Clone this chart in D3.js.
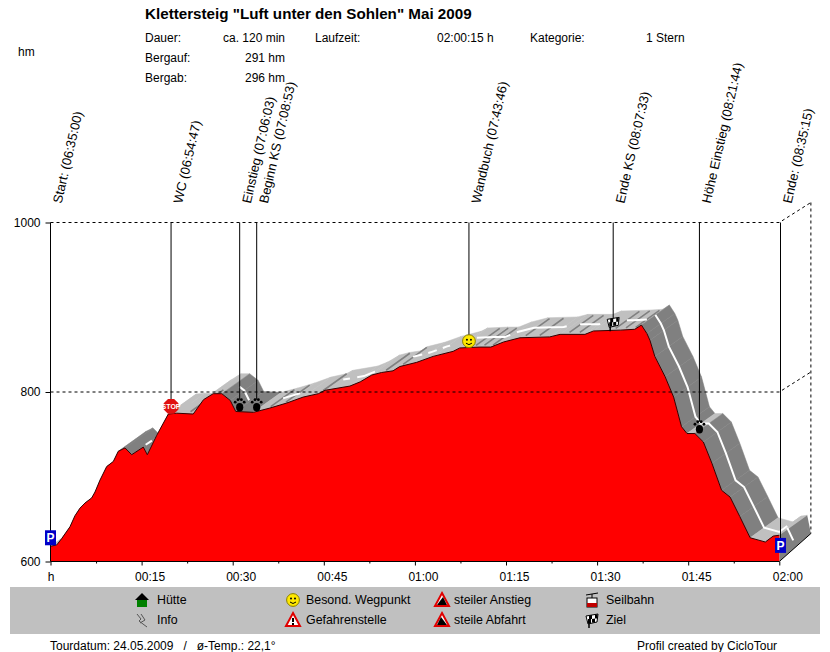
<!DOCTYPE html>
<html>
<head>
<meta charset="utf-8">
<script src="https://cdn.jsdelivr.net/npm/d3@7"></script>
<style>
  html, body { margin: 0; padding: 0; background: #fff; }
  svg { display: block; }
  text { font-family: "Liberation Sans", Arial, sans-serif; font-size: 12px; fill: #000; }
</style>
</head>
<body>
<svg width="830" height="652"></svg>
<script>
// Hoehenprofil: Zeit in Minuten, Hoehe in hm
const profileMinutes = [0, 1.02, 1.84, 3.21, 4.03, 4.86, 5.68, 6.78, 7.33, 8.15, 9.25, 10.34, 11.16, 12.27, 13.37, 15.28, 15.94, 17.5, 19.4, 20.8, 23.5, 25.2, 26.8, 28.2, 29.6, 30.5, 33.4, 36.1, 38.9, 41.6, 44.1, 45.2, 49.3, 51, 52.9, 54.5, 56.4, 57.5, 60.3, 63, 66.3, 67.4, 70.7, 72.5, 74.6, 77.3, 82.2, 83.9, 88, 89.4, 93.8, 96.2, 97.3, 98.2, 98.7, 99.5, 101.2, 102.6, 103.9, 104.8, 106.1, 107.5, 108.9, 110.5, 111.9, 113.5, 115.2, 117.7, 119, 120];
const profileElevation = [618, 619.5, 627, 641, 654, 663, 669, 675, 682, 696, 712, 718, 730, 734, 726, 735, 726, 749, 774, 775, 774, 791, 798, 798, 790, 777, 776, 781, 787, 794, 798, 802, 807, 812, 820, 823, 825, 830, 835, 842, 848, 852, 853, 853, 859, 864, 865, 868, 868, 872, 873, 874, 879, 869, 861, 842, 818, 794, 759, 751, 751, 741, 716, 684, 676, 653, 628, 623, 630, 631];

// Wegpunkte oben
const markerLabels = ["Start: (06:35:00)", "WC (06:54:47)", "Einstieg (07:06:03)", "Beginn KS (07:08:53)", "Wandbuch (07:43:46)", "Ende KS (08:07:33)", "Höhe Einstieg (08:21:44)", "Ende: (08:35:15)"];
const markerMinutes = [0, 19.85, 31.15, 33.95, 68.9, 92.65, 106.85, 120.2];
const markerIconElevation = [628, 783, 785, 785, 860, 881, 759, 619];
const markerIcons = ["parking", "stop", "paw", "paw", "smiley", "flag", "paw", "parking"];

// Achsen
const xTicks = [0, 15, 30, 45, 60, 75, 90, 105, 120];
const xTickLabels = ["h", "00:15", "00:30", "00:45", "01:00", "01:15", "01:30", "01:45", "02:00"];
const xMinorTicks = [7.5, 22.5, 37.5, 52.5, 67.5, 82.5, 97.5, 112.5];
const yTicks = [600, 800, 1000];

// 3D-Band: dunkle Abschnitte, dunkle Streifen, weisse Mittellinie (Minuten)
const darkRanges = [[11.16, 15.94], [28.2, 33.4], [97.3, 104.8], [106.1, 115.2]];
const stripeMinutes = [22.6, 24.1, 35.8, 38.3, 44.4, 54.8, 57.6, 69.6, 71, 72.4, 77.8, 80.1, 85, 86.7, 92.6, 94.3, 95.9];
const whiteRuns = [[13.37, 14.4], [28.8, 30.4], [36, 38.8], [45.9, 47], [48.2, 51.1], [57.4, 58.9], [59.9, 61.3], [62.3, 63.5], [67.9, 73.4], [74.5, 82.7], [84.9, 88.2], [92.6, 95.9], [97.3, 119]];
const capWhite = [[121.3, 640], [122.3, 625]];
const depthMinutes = 4.6;
const depthElevation = 23.6;

const svg = d3.select("svg");

const x = d3.scaleLinear().domain([0, 120]).range([50.5, 779.3]);
const y = d3.scaleLinear().domain([600, 1000]).range([561.5, 222.5]);
const elevationAt = d3.scaleLinear().domain(profileMinutes).range(profileElevation);

const profile = profileMinutes.map((t, i) => [t, profileElevation[i]]);
const poly = d3.line().x((d) => x(d[0])).y((d) => y(d[1]));
const back = ([t, e], f = 1) => [t + depthMinutes * f, e + depthElevation * f];

// Band hinter dem Profil
const isDark = (t) => darkRanges.some(([a, b]) => t >= a && t < b);
const band = svg.append("g");
d3.pairs(profile).forEach(([a, b]) => {
    const c = isDark((a[0] + b[0]) / 2) ? "#808080" : "#c0c0c0";
    band.append("path")
        .attr("d", poly([a, b, back(b), back(a)]) + "Z")
        .attr("fill", c).attr("stroke", c).attr("stroke-width", 0.5);
});
// Endkappe rechts
band.append("path")
    .attr("d", poly([[120, 631], back([120, 631]), [125.2, 633], [120, 600]]) + "Z")
    .attr("fill", "#808080");
band.append("path")
    .attr("d", poly([[120, 600], [125.2, 633]]))
    .attr("stroke", "#000").attr("fill", "none");
band.append("path")
    .attr("d", poly(capWhite))
    .attr("stroke", "#fff").attr("stroke-width", 2).attr("fill", "none");

band.selectAll(".stripe")
    .data(stripeMinutes)
    .join("path")
    .attr("class", "stripe")
    .attr("d", (t) => { const p = [t, elevationAt(t)]; return poly([back(p, 0.1), back(p, 0.95)]); })
    .attr("stroke", "#808080").attr("stroke-width", 1.6).attr("fill", "none");

band.selectAll(".white")
    .data(whiteRuns)
    .join("path")
    .attr("class", "white")
    .attr("d", ([a, b]) => {
        const pts = [[a, elevationAt(a)], ...profile.filter((p) => p[0] > a && p[0] < b), [b, elevationAt(b)]];
        return poly(pts.map((p) => back(p, 0.5)));
    })
    .attr("stroke", "#fff").attr("stroke-width", 2).attr("fill", "none");

// rote Flaeche
const area = d3.area().x((d) => x(d[0])).y0(y(600)).y1((d) => y(d[1]));
svg.append("path").attr("d", area(profile)).attr("fill", "#ff0000");
svg.append("path").attr("d", poly(profile)).attr("fill", "none").attr("stroke", "#300").attr("stroke-width", 1);

// gestrichelter Rahmen mit 3D-Ecke
const frame = svg.append("g").attr("fill", "none").attr("stroke", "#000").attr("stroke-dasharray", "3,3");
[800, 1000].forEach((e) => {
    frame.append("path").attr("d", poly([[0, e], [120, e], [125.2, e + depthElevation]]));
});
frame.append("path").attr("d", poly([[125.2, 1000 + depthElevation], [125.2, 633]]));

// Achsen
const xAxis = svg.append("g")
    .attr("transform", `translate(0,${y(600)})`)
    .call(d3.axisBottom(x).tickValues(xTicks).tickSize(4).tickFormat((d, i) => xTickLabels[i]));
xAxis.selectAll(".domain").attr("d", `M${x(0)},0H${x(120)}`);
xAxis.selectAll("text").attr("y", 19).attr("dy", 0).attr("dx", (d) => d === 0 ? 0 : 8);
svg.append("g")
    .attr("transform", `translate(0,${y(600)})`)
    .call(d3.axisBottom(x).tickValues(xMinorTicks).tickSize(2).tickFormat(""))
    .call((g) => g.select(".domain").remove());

const yAxis = svg.append("g")
    .attr("transform", `translate(${x(0)},0)`)
    .call(d3.axisLeft(y).tickValues(yTicks).tickSize(5).tickPadding(5).tickFormat(d3.format("d")));
yAxis.select(".domain").remove();
svg.selectAll(".tick text").style("font-size", "12px").style("font-family", "Liberation Sans");

// Wegpunkt-Linien, Texte und Symbole
const iconDraw = {
    parking(g) {
        g.append("rect").attr("x", -5.5).attr("y", -7.5).attr("width", 11).attr("height", 15).attr("fill", "#0000c8");
        g.append("text").attr("text-anchor", "middle").attr("y", 4.5).style("font-size", "12px").style("font-weight", "bold").style("fill", "#fff").text("P");
    },
    stop(g) {
        g.append("path").attr("d", d3.lineRadial().angle((d) => d).radius(8).curve(d3.curveLinearClosed)(d3.range(8).map((i) => Math.PI / 8 + i * Math.PI / 4))).attr("fill", "#e01010");
        g.append("text").attr("text-anchor", "middle").attr("y", 2.5).style("font-size", "7px").style("font-weight", "bold").style("fill", "#fff").text("STOP");
    },
    paw(g) {
        g.append("ellipse").attr("cy", 2.5).attr("rx", 3.6).attr("ry", 4.2).attr("fill", "#000");
        [[-4.5, -2.5], [-1.7, -5], [1.7, -5], [4.5, -2.5]].forEach(([a, b]) => {
            g.append("circle").attr("cx", a).attr("cy", b).attr("r", 1.4).attr("fill", "#000");
        });
    },
    smiley(g) {
        g.append("circle").attr("r", 6.4).attr("fill", "#ffe800").attr("stroke", "#8a8000");
        g.append("circle").attr("cx", -2).attr("cy", -1.5).attr("r", 1).attr("fill", "#000");
        g.append("circle").attr("cx", 2).attr("cy", -1.5).attr("r", 1).attr("fill", "#000");
        g.append("path").attr("d", "M-3,2Q0,5 3,2").attr("fill", "none").attr("stroke", "#000");
    },
    flag(g) {
        g.append("path").attr("d", "M-6,-4L6,-6L5,2L-4,4Z").attr("fill", "#fff").attr("stroke", "#000");
        g.append("path").attr("d", "M-3,-4.5V-1H0V-5ZM0,-1V2.5H3V-1.5ZM3,-5.5V-1.5H5.5V-5.5ZM-4,-1V3H-1V-1Z").attr("fill", "#000");
        g.append("path").attr("d", "M-3,3V8").attr("stroke", "#000").attr("stroke-width", 1.5);
    },
};

const iconTop = { parking: 7, stop: 7, paw: 5, smiley: 6, flag: 5 };
markerLabels.forEach((label, i) => {
    const kind = markerIcons[i];
    const px = x(markerMinutes[i]);
    const py = y(markerIconElevation[i]);
    svg.append("line")
        .attr("x1", px).attr("x2", px)
        .attr("y1", y(1000))
        .attr("y2", i === 0 ? y(600) : py - iconTop[kind])
        .attr("stroke", "#000");
    svg.append("text")
        .attr("transform", `translate(${px + 11},204) rotate(-77)`)
        .style("font-size", "13px")
        .text(label);
    iconDraw[kind](svg.append("g").attr("transform", `translate(${px},${py})`));
});

// Kopfzeile
svg.append("text").attr("x", 145).attr("y", 19).style("font-size", "15.2px").style("font-weight", "bold")
    .text('Klettersteig "Luft unter den Sohlen" Mai 2009');
const headerLabels = [["Dauer:", 145, 42], ["Bergauf:", 145, 62], ["Bergab:", 145, 82], ["Laufzeit:", 315, 42], ["02:00:15 h", 437, 42], ["Kategorie:", 530, 42], ["1 Stern", 646, 42], ["hm", 18, 56]];
headerLabels.forEach(([s, a, b]) => svg.append("text").attr("x", a).attr("y", b).text(s));
const headerValues = [["ca. 120 min", 285, 42], ["291 hm", 285, 62], ["296 hm", 285, 82]];
headerValues.forEach(([s, a, b]) => svg.append("text").attr("x", a).attr("y", b).attr("text-anchor", "end").text(s));

// Legende
svg.append("rect").attr("x", 10).attr("y", 587).attr("width", 810).attr("height", 47).attr("fill", "#c0c0c0");
const triangle = (g, inner) => {
    g.append("path").attr("d", "M0,-7L7,6H-7Z").attr("fill", "#fff").attr("stroke", "#e00000").attr("stroke-width", 2);
    inner(g);
};
const legendItems = [
    ["Hütte", 142, 157, 600, (g) => {
        g.append("path").attr("d", "M-7,0L0,-7L7,0Z").attr("fill", "#000");
        g.append("rect").attr("x", -5).attr("y", 0).attr("width", 10).attr("height", 7).attr("fill", "#008000");
    }],
    ["Info", 142, 157, 620, (g) => {
        g.append("path").attr("d", "M-5,-6L-1,-1L-3,1L5,7M-1,-6L3,0L-2,3").attr("fill", "none").attr("stroke", "#555");
    }],
    ["Besond. Wegpunkt", 293, 306, 600, (g) => iconDraw.smiley(g)],
    ["Gefahrenstelle", 293, 306, 620, (g) => triangle(g, (t) => {
        t.append("path").attr("d", "M0,-2V2M0,3V5").attr("stroke", "#000").attr("stroke-width", 2);
    })],
    ["steiler Anstieg", 442, 454, 600, (g) => triangle(g, (t) => {
        t.append("path").attr("d", "M-5,5L1,-3L5,5Z").attr("fill", "#000");
    })],
    ["steile Abfahrt", 442, 454, 620, (g) => triangle(g, (t) => {
        t.append("path").attr("d", "M-1,-3L5,5H-5Z").attr("fill", "#000");
    })],
    ["Seilbahn", 592, 606, 600, (g) => {
        g.append("path").attr("d", "M-6,-5L6,-7M0,-6V-2").attr("stroke", "#000");
        g.append("rect").attr("x", -5).attr("y", -2).attr("width", 10).attr("height", 9).attr("fill", "#fff").attr("stroke", "#000");
        g.append("rect").attr("x", -5).attr("y", 3).attr("width", 10).attr("height", 4).attr("fill", "#c00000");
    }],
    ["Ziel", 592, 606, 620, (g) => iconDraw.flag(g)],
];
legendItems.forEach(([label, a, tx, b, draw]) => {
    draw(svg.append("g").attr("transform", `translate(${a},${b})`));
    svg.append("text").attr("x", tx).attr("y", b + 4).style("font-size", "12.4px").text(label);
});

// Fusszeile
svg.append("text").attr("x", 50).attr("y", 650).style("white-space", "pre").text("Tourdatum: 24.05.2009   /   ø-Temp.: 22,1°");
svg.append("text").attr("x", 637).attr("y", 650).text("Profil created by CicloTour");
</script>
</body>
</html>
